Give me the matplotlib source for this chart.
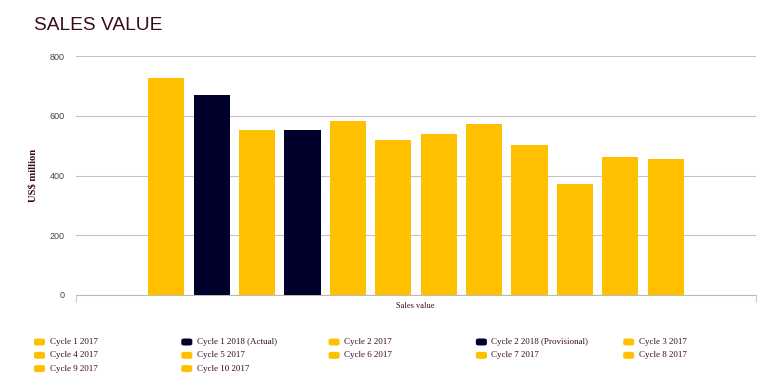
import matplotlib.pyplot as plt
import numpy as np
from matplotlib.patches import FancyBboxPatch

series = ["Cycle 1 2017", "Cycle 1 2018 (Actual)", "Cycle 2 2017", "Cycle 2 2018 (Provisional)",
          "Cycle 3 2017", "Cycle 4 2017", "Cycle 5 2017", "Cycle 6 2017", "Cycle 7 2017",
          "Cycle 8 2017", "Cycle 9 2017", "Cycle 10 2017"]
values = [725, 669, 552, 552, 582, 519, 538, 573, 503, 371, 463, 454]
category = "Sales value"
yticks = [0, 200, 400, 600, 800]

yellow = "#ffc000"
navy = "#00002a"
colors = [navy if "2018" in s else yellow for s in series]
textcol = "#3b0b1b"

fig = plt.figure(figsize=(7.81, 3.85), dpi=100)
W, H = 781, 385
ax = fig.add_axes([76 / W, 1 - 295 / H, 680 / W, 239 / H])

n = len(series)
pos = np.arange(n) - (n - 1) / 2
ax.bar(pos, values, width=0.8, color=colors, zorder=3)

half = 340 / 45.4
ax.set_xlim(-half, half)
ax.set_ylim(0, 800)
ax.set_yticks(yticks)
ax.set_yticklabels([str(t) for t in yticks], fontsize=6.5, color="#444444", family="Liberation Sans")
ax.tick_params(axis="y", length=0, pad=8)
ax.set_xticks([-half, half])
ax.set_xticklabels(["", ""])
ax.tick_params(axis="x", length=5, color="#cccccc", width=0.8)
ax.grid(axis="y", color="#cbbfcb", linewidth=0.8, zorder=0)
for s in ["top", "right", "left"]:
    ax.spines[s].set_visible(False)
ax.spines["bottom"].set_color("#bbbbbb")
ax.spines["bottom"].set_linewidth(0.8)

ax.set_ylabel("US$ million", family="Liberation Serif", fontweight="bold", fontsize=7.7, color=textcol, labelpad=9)
fig.text(415 / W, 1 - 306 / H, category, ha="center", va="center", family="Liberation Serif",
         fontsize=6, color=textcol)

fig.text(34 / W, 1 - 26 / H, "SALES VALUE", ha="left", va="center", family="Liberation Sans",
         fontsize=13.8, color=textcol)

# legend, row-major, 5 columns
for i, (s, c) in enumerate(zip(series, colors)):
    row, col = divmod(i, 5)
    x0 = 34 + col * 147.3
    yc = 342 + row * 13.3
    fig.patches.append(FancyBboxPatch(((x0) / W, 1 - (yc + 3.5) / H), 11 / W, 7 / H,
                                      boxstyle="round,pad=0,rounding_size=0.004",
                                      transform=fig.transFigure, facecolor=c, edgecolor="none"))
    fig.text((x0 + 15.5) / W, 1 - yc / H, s, ha="left", va="center", family="Liberation Serif",
             fontsize=6.5, color=textcol)

fig.savefig("out.png", dpi=100)
